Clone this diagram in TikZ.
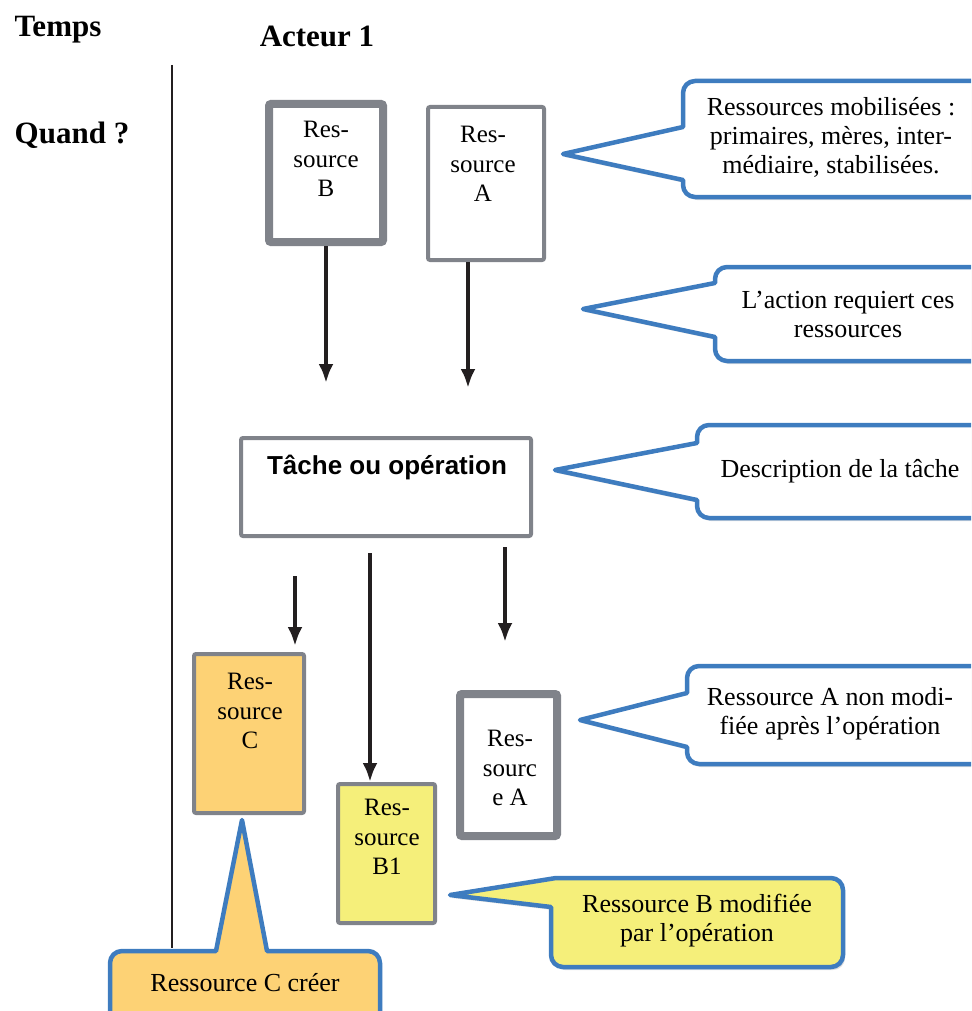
\documentclass[tikz,border=0pt]{standalone}
\usepackage{fontspec}
\setmainfont{Liberation Serif}
\setsansfont{Liberation Sans}
\usepackage{tikz}
\usetikzlibrary{arrows.meta}
\usetikzlibrary{shadows}
\usetikzlibrary{calc}
\tikzset{>={Latex[length=19pt,width=15pt]}}
\definecolor{boxgray}{RGB}{128,131,138}
\definecolor{bulleblue}{RGB}{62,124,191}
\definecolor{orangefill}{RGB}{253,210,117}
\definecolor{yellowfill}{RGB}{245,239,122}
\definecolor{flechenoir}{RGB}{35,31,32}
\tikzset{
	ressource/.style={draw=boxgray,line width=4pt,fill=white,rounded corners=2pt,inner sep=0pt},
	epais/.style={line width=8pt},
	boxtxt/.style={align=center,inner sep=0pt,font=\fontsize{25}{29.5}\selectfont},
	bulle/.style={draw=bulleblue,line width=4.5pt,fill=white,line join=round,
		drop shadow={shadow xshift=2pt,shadow yshift=-3pt,opacity=0.25}},
	bulletxt/.style={align=center,inner sep=0pt,font=\fontsize{26}{29}\selectfont},
	titre/.style={inner sep=0pt,font=\fontsize{31}{36}\selectfont\bfseries},
	fleche/.style={->,line width=4pt,draw=flechenoir},
}

\begin{document}
\begin{tikzpicture}[x=1pt,y=-1pt]
		\useasboundingbox (0,0) rectangle (971,1011);
		\clip (0,0) rectangle (971,1011);
		% titres
		\node[titre] (temps) at (58,30) {Temps};
		\node[titre] (acteur) at (317,36) {Acteur 1};
		\node[titre] (quand) at (72,135) {Quand ?};
		\coordinate (axehaut) at (172,65);
		\coordinate (axebas) at (172,948);
		\draw[line width=2.5pt,flechenoir] (axehaut) -- (axebas);
		% ressources
		\node[ressource,epais,minimum width=114pt,minimum height=138pt] (resB) at (326,173) {};
		\node[boxtxt] (resBtxt) at (326,159) {Res-\\source\\B};
		\node[ressource,minimum width=116pt,minimum height=153pt] (resA) at (486,183.5) {};
		\node[boxtxt] (resAtxt) at (483,164) {Res-\\source\\A};
		\node[ressource,minimum width=290pt,minimum height=98pt] (tache) at (386,487) {};
		\node[inner sep=0pt,font=\fontsize{26}{30}\selectfont\sffamily\bfseries] (tachetxt) at (387,467) {Tâche ou opération};
		\node[ressource,fill=orangefill,minimum width=110pt,minimum height=159pt] (resC) at (249,733.5) {};
		\node[boxtxt] (resCtxt) at (250,711) {Res-\\source\\C};
		\node[ressource,fill=yellowfill,minimum width=97pt,minimum height=139pt] (resBun) at (386.5,853.5) {};
		\node[boxtxt] (resBuntxt) at (387,837) {Res-\\source\\B1};
		\node[ressource,epais,minimum width=97pt,minimum height=142pt] (resAbis) at (508.5,765) {};
		\node[boxtxt] (resAbistxt) at (510,768) {Res-\\sourc\\e A};
		% fleches
		\coordinate (finB) at (326,383);
		\coordinate (departA) at (468,262);
		\coordinate (finA) at (468,388);
		\draw[fleche] (resB.south) -- (finB);
		\draw[fleche] (departA) -- (finA);
		\coordinate (g1) at (295,576);
		\coordinate (g2) at (295,646);
		\coordinate (m1) at (370,553);
		\coordinate (d1) at (505,547);
		\coordinate (d2) at (505,642);
		\draw[fleche] (g1) -- (g2);
		\draw[fleche] (m1) -- (m1 |- resBun.north);
		\draw[fleche] (d1) -- (d2);
		% bulles
		\coordinate (pointe1) at (563,154);
		\draw[bulle] (pointe1) -- (683,127) [rounded corners=12pt] -- (683,81) -- (1000,81) -- (1000,197) -- (683,197) [sharp corners] -- (683,180) -- cycle;
		\node[bulletxt] (bulle1) at (831,137) {Ressources mobilisées :\\primaires, mères, inter-\\médiaire, stabilisées.};
		\coordinate (pointe2) at (583,309);
		\draw[bulle] (pointe2) -- (715,283) [rounded corners=12pt] -- (715,267) -- (1000,267) -- (1000,361) -- (715,361) [sharp corners] -- (715,337) -- cycle;
		\node[bulletxt] (bulle2) at (848,314) {L’action requiert ces\\ressources};
		\coordinate (pointe3) at (555,470);
		\draw[bulle] (pointe3) -- (697,443) [rounded corners=12pt] -- (697,425) -- (1000,425) -- (1000,518) -- (697,518) [sharp corners] -- (697,500) -- cycle;
		\node[bulletxt] (bulle3) at (840,471) {Description de la tâche};
		\coordinate (pointe4) at (580,720);
		\draw[bulle] (pointe4) -- (687,693) [rounded corners=12pt] -- (687,666) -- (1000,666) -- (1000,764) -- (687,764) [sharp corners] -- (687,747) -- cycle;
		\node[bulletxt] (bulle4) at (830,714) {Ressource A non modi-\\fiée après l’opération};
		\coordinate (pointe5) at (450,895);
		\draw[bulle,fill=yellowfill] (pointe5) -- (556,878) [rounded corners=12pt] -- (843,878) -- (843,967) -- (551,967) [sharp corners] -- (551,907) -- cycle;
		\node[bulletxt] (bulle5) at (697,921) {Ressource B modifiée\\par l’opération};
		\coordinate (pointe6) at (242,820);
		\draw[bulle,fill=orangefill] (pointe6) -- (267,951) [rounded corners=12pt] -- (380,951) -- (380,1040) -- (110,1040) -- (110,951) [sharp corners] -- (216,951) -- cycle;
		\node[bulletxt] (bulle6) at (245,983) {Ressource C créer};
	\end{tikzpicture}
\end{document}
